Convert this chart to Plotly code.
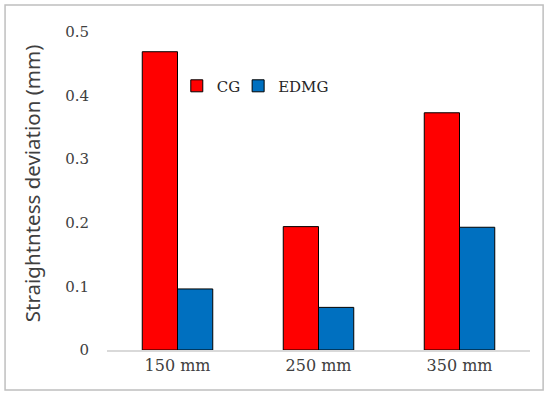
import plotly.graph_objects as go

categories = ["150 mm", "250 mm", "350 mm"]
cg = [0.469, 0.194, 0.373]
edmg = [0.096, 0.067, 0.193]
y_ticks = [0, 0.1, 0.2, 0.3, 0.4, 0.5]
y_ticktext = ["0", "0.1", "0.2", "0.3", "0.4", "0.5"]
y_title = "Straightntess deviation (mm)"

serif = "DejaVu Serif, Liberation Serif, serif"
leg_font = dict(family=serif, size=15, color="#262626")

fig = go.Figure()
fig.add_trace(go.Bar(name="CG", x=categories, y=cg, legend="legend",
                     marker=dict(color="#FF0000", line=dict(color="#000000", width=1))))
fig.add_trace(go.Bar(name="EDMG", x=categories, y=edmg, legend="legend2",
                     marker=dict(color="#0070C0", line=dict(color="#000000", width=1))))

fig.update_layout(
    width=550, height=396,
    margin=dict(l=107, r=20, t=32, b=46, autoexpand=False),
    paper_bgcolor="white", plot_bgcolor="white",
    barmode="group", bargap=0.5, bargroupgap=0,
    showlegend=True,
    legend=dict(orientation="h", x=0.165, y=0.83, xanchor="left", yanchor="middle",
                font=leg_font, bgcolor="rgba(0,0,0,0)", itemwidth=30),
    legend2=dict(orientation="h", x=0.31, y=0.83, xanchor="left", yanchor="middle",
                 font=leg_font, bgcolor="rgba(0,0,0,0)", itemwidth=30),
    font=dict(family=serif, size=15, color="#404040"),
    shapes=[dict(type="rect", xref="paper", yref="paper",
                 x0=-0.241, x1=1.031, y0=-0.126, y1=1.085,
                 line=dict(color="#BFBFBF", width=1.5), layer="below")],
    annotations=[dict(text=y_title, xref="paper", yref="paper", x=-0.177, y=0.522,
                      xanchor="center", yanchor="middle", textangle=-90, showarrow=False,
                      font=dict(family="Noto Sans, Open Sans, sans-serif", size=20.5, color="#404040"))],
)
fig.update_xaxes(showgrid=False, showline=True, linecolor="#D9D9D9", linewidth=1.5,
                 ticks="", automargin=False,
                 tickfont=dict(family=serif, size=16, color="#404040"))
fig.update_yaxes(range=[0, 0.5], tickvals=y_ticks, ticktext=y_ticktext,
                 showgrid=False, zeroline=False, showline=False, ticks="",
                 ticklabelstandoff=17, automargin=False,
                 tickfont=dict(family=serif, size=15, color="#404040"))

fig.write_html("out.html", config={"displayModeBar": False},
               post_script="document.body.style.margin='0';")
